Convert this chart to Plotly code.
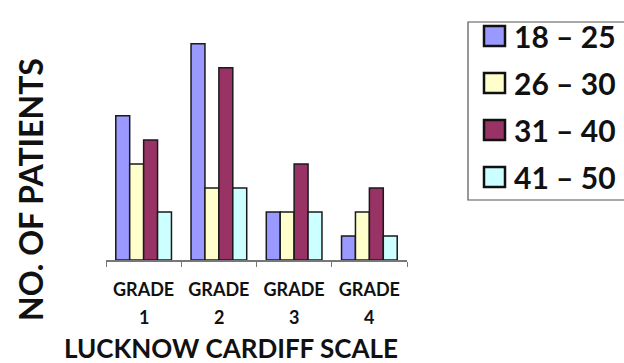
import plotly.graph_objects as go

# Patients per Lucknow Cardiff grade, split by age group
grades = ["GRADE 1", "GRADE 2", "GRADE 3", "GRADE 4"]
grade_words = ["GRADE", "GRADE", "GRADE", "GRADE"]
grade_numbers = ["1", "2", "3", "4"]
age_groups = ["18 \u2013 25", "26 \u2013 30", "31 \u2013 40", "41 \u2013 50"]
age_18_25 = [6, 9, 2, 1]
age_26_30 = [4, 3, 2, 2]
age_31_40 = [5, 8, 4, 3]
age_41_50 = [2, 3, 2, 1]
series = [age_18_25, age_26_30, age_31_40, age_41_50]
colors = ["#9999FF", "#FFFFCC", "#993366", "#CCFFFF"]

W, H = 624, 363
L, R, T, B = 106, 217, 39, 103
PW, PH = W - L - R, H - T - B
FONT = "Lato"


def px(x):
    return (x - L) / PW


def py(y):
    return (H - B - y) / PH


fig = go.Figure()
for name, vals, col in zip(age_groups, series, colors):
    fig.add_trace(go.Bar(
        x=grades, y=vals, name=name,
        marker=dict(color=col, line=dict(color="#1a1a1a", width=1.5)),
        showlegend=False,
    ))

annotations = []
# grade numbers under the GRADE tick labels
for g, n in zip(grades, grade_numbers):
    annotations.append(dict(x=g, xref="x", y=py(317), yref="paper", text=f"<b>{n}</b>",
                            showarrow=False, xanchor="center", yanchor="middle",
                            font=dict(family=FONT, size=18, color="#111")))
# axis titles
annotations.append(dict(x=px(231), xref="paper", y=py(348), yref="paper",
                        text="<b>LUCKNOW CARDIFF SCALE</b>", showarrow=False,
                        xanchor="center", yanchor="middle",
                        font=dict(family=FONT, size=26, color="#111")))
annotations.append(dict(x=px(30), xref="paper", y=py(190), yref="paper",
                        text="<b>NO. OF PATIENTS</b>", showarrow=False, textangle=-90,
                        xanchor="center", yanchor="middle",
                        font=dict(family=FONT, size=32, color="#111")))

shapes = []
# legend box
shapes.append(dict(type="rect", xref="paper", yref="paper",
                   x0=px(468), x1=px(640), y0=py(200), y1=py(22),
                   line=dict(color="#555", width=1.2), fillcolor="white"))
legend_y = [36, 83, 130, 177]
for name, col, yc in zip(age_groups, colors, legend_y):
    shapes.append(dict(type="rect", xref="paper", yref="paper",
                       x0=px(484), x1=px(505), y0=py(yc + 10), y1=py(yc - 10),
                       line=dict(color="#111", width=2.5), fillcolor=col))
    annotations.append(dict(x=px(512), xref="paper", y=py(yc), yref="paper",
                            text=f"<b>{name}</b>", showarrow=False,
                            xanchor="left", yanchor="middle",
                            font=dict(family=FONT, size=30, color="#111")))

fig.update_layout(
    width=W, height=H,
    margin=dict(l=L, r=R, t=T, b=B),
    paper_bgcolor="white", plot_bgcolor="white",
    barmode="group", bargap=0.26, bargroupgap=0,
    showlegend=False,
    annotations=annotations, shapes=shapes,
    xaxis=dict(
        tickmode="array", tickvals=grades, ticktext=grade_words,
        tickson="boundaries", ticks="outside", ticklen=5, tickcolor="#777",
        showline=True, linecolor="#777", linewidth=1.5,
        showgrid=False, ticklabelstandoff=13,
        tickfont=dict(family=FONT, size=18, color="#111", weight="bold"),
    ),
    yaxis=dict(range=[0, 9.2], visible=False, showgrid=False),
)

fig.write_html("out.html")
